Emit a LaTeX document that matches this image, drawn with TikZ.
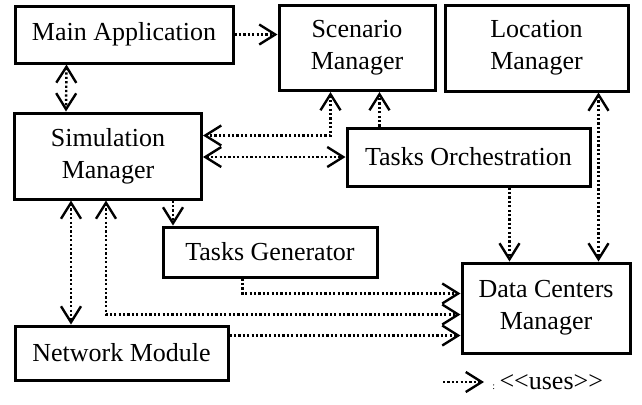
\documentclass[tikz,border=0pt]{standalone}
\usepackage{fontspec}
\setmainfont{Liberation Serif}
\usetikzlibrary{arrows.meta}

\begin{document}
\begin{tikzpicture}[x=0.5pt,y=-0.5pt,
        module/.style={draw, line width=1.5pt, inner sep=0pt, align=center,
            font=\fontsize{13}{16}\selectfont},
        uses/.style={line width=1.2pt, dash pattern=on 1.1pt off 1.1pt},
        >={Straight Barb[length=8pt,width=10pt,line width=1.2pt]}]
        \useasboundingbox (0,0) rectangle (642,404);
        \node[module, minimum width=109pt, minimum height=28.5pt] (main) at (124,34.5) {Main Application};
        \node[module, minimum width=78pt, minimum height=42.5pt] (scen) at (357,48) {Scenario\\Manager};
        \node[module, minimum width=91.5pt, minimum height=43pt] (loc) at (536.5,48) {Location\\Manager};
        \node[module, minimum width=93.5pt, minimum height=43pt] (sim) at (108,156) {Simulation\\Manager};
        \node[module, minimum width=121.5pt, minimum height=29pt] (orch) at (468.5,157) {Tasks Orchestration};
        \node[module, minimum width=107pt, minimum height=25pt] (gen) at (270,252) {Tasks Generator};
        \node[module, minimum width=106.5pt, minimum height=27pt] (net) at (121.5,353) {Network Module};
        \node[module, minimum width=84pt, minimum height=45pt] (dc) at (546,308) {Data Centers\\Manager};
        % <<uses>> links
        \draw[uses,->] (main.east) -- (main.east -| scen.west);
        \draw[uses,<->] ([xshift=26.5pt]main.south west) -- ([xshift=26.5pt]sim.north west);
        \draw[uses,<->] ([xshift=26.5pt]scen.south west) |- ([yshift=-12pt]sim.north east);
        \draw[uses,<->] (orch.west -| sim.east) -- (orch.west);
        \draw[uses,->] ([xshift=17pt]orch.north west) -- ([xshift=17pt]orch.north west |- scen.south);
        \draw[uses,<->] ([xshift=77.5pt]loc.south west) -- ([xshift=77.5pt]loc.south west |- dc.north);
        \draw[uses,->] ([xshift=82pt]orch.south west) -- ([xshift=82pt]orch.south west |- dc.north);
        \draw[uses,->] ([xshift=80pt]sim.south west) -- ([xshift=80pt]sim.south west |- gen.north);
        \draw[uses,<->] ([xshift=29pt]sim.south west) -- ([xshift=29pt]sim.south west |- net.north);
        \draw[uses,<->] ([xshift=46.5pt]sim.south west) |- ([yshift=-26.5pt]dc.north west);
        \draw[uses,->] ([xshift=40.5pt]gen.south west) |- ([yshift=-16pt]dc.north west);
        \draw[uses,->] ([yshift=-5.5pt]net.north east) -- ([yshift=-5.5pt]net.north east -| dc.west);
        % legend
        \coordinate (legA) at (443,382);
        \coordinate (legB) at (484,382);
        \draw[uses,->] (legA) -- (legB);
        \node[anchor=west, inner sep=0pt, font=\fontsize{13}{16}\selectfont] (leg) at (492,382) {{\tiny :}\,<{}<uses>{}>};
\end{tikzpicture}
\end{document}
